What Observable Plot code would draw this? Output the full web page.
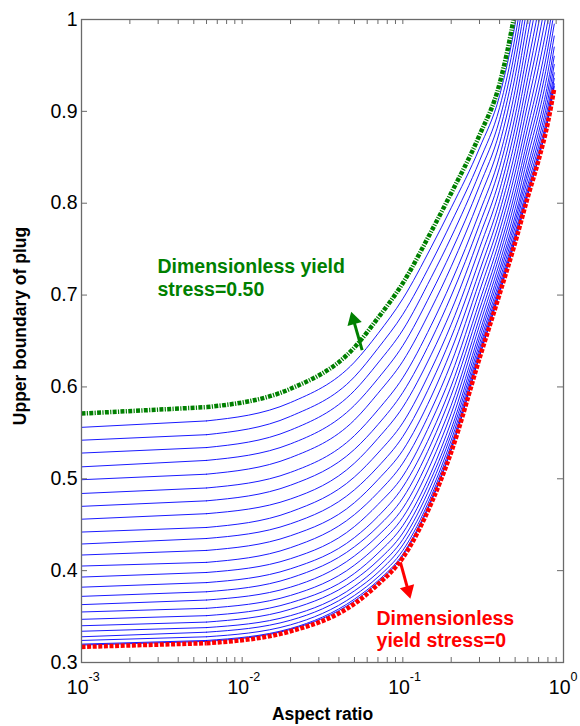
<!DOCTYPE html>
<html><head><meta charset="utf-8">
<script src="https://cdn.jsdelivr.net/npm/d3@7"></script>
<script src="https://cdn.jsdelivr.net/npm/@observablehq/plot@0.6"></script>
<style>body{margin:0;background:#fff} svg{display:block}</style>
</head><body><div id="chart"></div>
<script>
// ---- data ----
const aspectRatio = [0.001, 0.006, 0.02, 0.05, 0.07, 0.1, 0.15, 0.2, 0.3, 0.4, 0.5, 0.6, 0.7, 0.8, 0.876];
const yieldStress = [0, 0.02, 0.04, 0.06, 0.08, 0.10, 0.12, 0.14, 0.16, 0.18, 0.20, 0.22, 0.24,
  0.26, 0.28, 0.30, 0.32, 0.34, 0.36, 0.38, 0.40, 0.42, 0.44, 0.46, 0.48, 0.50];
// one row per yield stress, one value per aspect ratio
const plugBoundary = [
  [0.317, 0.321, 0.334, 0.364, 0.385, 0.414, 0.473, 0.529, 0.631, 0.701, 0.757, 0.807, 0.847, 0.888, 0.925],
  [0.319, 0.323, 0.336, 0.367, 0.387, 0.416, 0.475, 0.531, 0.633, 0.702, 0.759, 0.809, 0.849, 0.890, 0.927],
  [0.320, 0.324, 0.337, 0.369, 0.389, 0.418, 0.477, 0.533, 0.634, 0.704, 0.760, 0.811, 0.851, 0.893, 0.930],
  [0.324, 0.328, 0.341, 0.373, 0.393, 0.422, 0.481, 0.537, 0.638, 0.707, 0.764, 0.815, 0.856, 0.898, 0.936],
  [0.328, 0.333, 0.346, 0.378, 0.398, 0.428, 0.486, 0.542, 0.642, 0.711, 0.768, 0.820, 0.862, 0.905, 0.942],
  [0.334, 0.338, 0.351, 0.383, 0.404, 0.434, 0.493, 0.548, 0.647, 0.716, 0.774, 0.827, 0.869, 0.913, 0.951],
  [0.340, 0.344, 0.358, 0.390, 0.411, 0.441, 0.500, 0.554, 0.653, 0.722, 0.780, 0.834, 0.877, 0.922, 0.960],
  [0.347, 0.351, 0.365, 0.397, 0.419, 0.449, 0.507, 0.562, 0.659, 0.728, 0.786, 0.841, 0.886, 0.931, 0.970],
  [0.355, 0.359, 0.373, 0.406, 0.428, 0.458, 0.517, 0.571, 0.667, 0.735, 0.794, 0.851, 0.897, 0.943, 0.982],
  [0.363, 0.368, 0.382, 0.416, 0.438, 0.468, 0.527, 0.580, 0.675, 0.743, 0.803, 0.861, 0.908, 0.956, 0.995],
  [0.372, 0.377, 0.392, 0.426, 0.448, 0.479, 0.538, 0.591, 0.684, 0.751, 0.812, 0.871, 0.920, 0.969, 1.009],
  [0.382, 0.387, 0.402, 0.436, 0.459, 0.491, 0.549, 0.601, 0.693, 0.760, 0.822, 0.883, 0.933, 0.983, 1.024],
  [0.393, 0.398, 0.413, 0.448, 0.472, 0.503, 0.562, 0.613, 0.704, 0.770, 0.833, 0.895, 0.948, 0.999, 1.041],
  [0.405, 0.409, 0.425, 0.461, 0.485, 0.517, 0.575, 0.626, 0.715, 0.780, 0.844, 0.909, 0.963, 1.016, 1.058],
  [0.417, 0.422, 0.438, 0.474, 0.499, 0.531, 0.589, 0.640, 0.726, 0.791, 0.856, 0.923, 0.979, 1.034, 1.077],
  [0.429, 0.435, 0.451, 0.488, 0.513, 0.546, 0.604, 0.654, 0.738, 0.802, 0.869, 0.937, 0.996, 1.052, 1.096],
  [0.442, 0.447, 0.464, 0.502, 0.528, 0.561, 0.619, 0.668, 0.751, 0.814, 0.882, 0.952, 1.012, 1.071, 1.115],
  [0.456, 0.462, 0.478, 0.517, 0.544, 0.578, 0.635, 0.683, 0.764, 0.826, 0.895, 0.968, 1.031, 1.092, 1.137],
  [0.470, 0.476, 0.493, 0.532, 0.559, 0.594, 0.651, 0.699, 0.777, 0.839, 0.909, 0.984, 1.049, 1.112, 1.158],
  [0.484, 0.490, 0.507, 0.547, 0.575, 0.610, 0.667, 0.714, 0.790, 0.851, 0.923, 1.001, 1.067, 1.132, 1.179],
  [0.499, 0.505, 0.523, 0.564, 0.593, 0.628, 0.685, 0.731, 0.805, 0.865, 0.938, 1.018, 1.088, 1.154, 1.202],
  [0.513, 0.520, 0.538, 0.580, 0.609, 0.645, 0.702, 0.747, 0.819, 0.878, 0.953, 1.035, 1.107, 1.176, 1.224],
  [0.528, 0.534, 0.553, 0.596, 0.626, 0.662, 0.719, 0.763, 0.833, 0.891, 0.967, 1.052, 1.126, 1.197, 1.246],
  [0.542, 0.548, 0.568, 0.611, 0.642, 0.679, 0.735, 0.779, 0.846, 0.904, 0.981, 1.068, 1.144, 1.217, 1.268],
  [0.556, 0.563, 0.583, 0.627, 0.658, 0.696, 0.752, 0.795, 0.860, 0.917, 0.995, 1.085, 1.164, 1.238, 1.290],
  [0.571, 0.578, 0.598, 0.643, 0.675, 0.713, 0.769, 0.811, 0.874, 0.930, 1.010, 1.102, 1.183, 1.260, 1.312]
];
const yTicks = [0.3, 0.4, 0.5, 0.6, 0.7, 0.8, 0.9, 1];
const yTickLabels = ["0.3", "0.4", "0.5", "0.6", "0.7", "0.8", "0.9", "1"];
const xMajorTicks = [0.001, 0.01, 0.1, 1];
const xTickExponents = ["-3", "-2", "-1", "0"];
const xMinorTicks = [0.002, 0.003, 0.004, 0.005, 0.006, 0.007, 0.008, 0.009,
  0.02, 0.03, 0.04, 0.05, 0.06, 0.07, 0.08, 0.09,
  0.2, 0.3, 0.4, 0.5, 0.6, 0.7, 0.8, 0.9];
const greenLabel = ["Dimensionless yield\nstress=0.50"];
const redLabel = ["Dimensionless\nyield stress=0"];
const xTitle = ["Aspect ratio"];
const yTitle = ["Upper boundary of plug"];
// annotation arrows (data coordinates): shaft start, head centre, head rotation
const greenArrow = [{x1: 0.0558, y1: 0.640, x2: 0.0493, y2: 0.673, angle: -15.6}];
const redArrow = [{x1: 0.0966, y1: 0.409, x2: 0.1079, y2: 0.3785, angle: 164.7}];

// ---- layout ----
const W = 580, H = 726, mL = 81, mR = 17, mT = 19, mB = 64;
const plotW = W - mL - mR, plotH = H - mT - mB;
const FONT = "'Liberation Sans', Arial, Helvetica, sans-serif";
const GREEN = "#008000", RED = "#ff0000", BLUE = "#0000ff", AXIS = "#6a6a6a";

const rows = [];
plugBoundary.forEach((vals, i) => vals.forEach((v, j) => rows.push({stress: yieldStress[i], ratio: aspectRatio[j], value: v, j})));
const first = d => d.j <= 1, rest = d => d.j >= 1;
const blue = rows.filter(d => d.stress > 0 && d.stress < 0.5);
const red = rows.filter(d => d.stress === 0);
const green = rows.filter(d => d.stress === 0.5);

const lineOpts = {x: "ratio", y: "value", z: "stress", clip: true};
const redStyle = {stroke: RED, strokeWidth: 4.5, strokeDasharray: "4 1.6", strokeLinecap: "butt"};
const greenStyle = {stroke: GREEN, strokeWidth: 4.5, strokeDasharray: "4 1.3 1.2 1.3", strokeLinecap: "butt"};

const chart = Plot.plot({
  width: W, height: H,
  marginLeft: mL, marginRight: mR, marginTop: mT, marginBottom: mB,
  style: {fontFamily: FONT, background: "white"},
  x: {type: "log", domain: [0.001, 1], axis: null},
  y: {domain: [0.3, 1], axis: null},
  marks: [
    Plot.line(blue.filter(first), {...lineOpts, stroke: BLUE, strokeWidth: 0.9}),
    Plot.line(blue.filter(rest), {...lineOpts, stroke: BLUE, strokeWidth: 0.9, curve: "monotone-x"}),
    Plot.line(red.filter(first), {...lineOpts, ...redStyle}),
    Plot.line(red.filter(rest), {...lineOpts, ...redStyle, curve: "monotone-x"}),
    Plot.line(green.filter(first), {...lineOpts, ...greenStyle}),
    Plot.line(green.filter(rest), {...lineOpts, ...greenStyle, curve: "monotone-x"}),
    // frame + inward ticks
    Plot.frame({stroke: AXIS, strokeWidth: 1.3}),
    Plot.ruleX(xMajorTicks.concat(xMinorTicks), {x: d => d, insetTop: plotH - 5, stroke: AXIS}),
    Plot.ruleX(xMajorTicks.concat(xMinorTicks), {x: d => d, insetBottom: plotH - 5, stroke: AXIS}),
    Plot.ruleY(yTicks, {y: d => d, insetRight: plotW - 6, stroke: AXIS}),
    Plot.ruleY(yTicks, {y: d => d, insetLeft: plotW - 6, stroke: AXIS}),
    // tick labels
    Plot.text(yTicks, {y: d => d, text: (d, i) => yTickLabels[i], frameAnchor: "left", textAnchor: "end", dx: -4, fontSize: 19.5, fill: "black"}),
    Plot.text(xMajorTicks, {x: d => d, text: () => "10", frameAnchor: "bottom", textAnchor: "end", dx: 7, dy: 31, fontSize: 19.5, fill: "black"}),
    Plot.text(xMajorTicks, {x: d => d, text: (d, i) => xTickExponents[i], frameAnchor: "bottom", textAnchor: "start", dx: 7, dy: 18.5, fontSize: 12.5, fill: "black"}),
    // axis titles
    Plot.text(xTitle, {frameAnchor: "bottom", textAnchor: "middle", dy: 57, fontSize: 17.5, fontWeight: "bold", fill: "black"}),
    Plot.text(yTitle, {frameAnchor: "left", textAnchor: "middle", lineAnchor: "middle", dx: -61, dy: -15, rotate: -90, fontSize: 17.5, fontWeight: "bold", fill: "black"}),
    // annotations
    Plot.text(greenLabel, {x: () => 0.00297, y: () => 0.741, textAnchor: "start", lineAnchor: "top", lineHeight: 1.16, fontSize: 19.5, fontWeight: "bold", fill: GREEN}),
    Plot.text(redLabel, {x: () => 0.0686, y: () => 0.3585, textAnchor: "start", lineAnchor: "top", lineHeight: 1.15, fontSize: 19.5, fontWeight: "bold", fill: RED}),
    Plot.link(greenArrow, {x1: "x1", y1: "y1", x2: "x2", y2: "y2", stroke: GREEN, strokeWidth: 3}),
    Plot.dot(greenArrow, {x: "x2", y: "y2", symbol: "triangle", r: 5.5, rotate: "angle", fill: GREEN, stroke: null}),
    Plot.link(redArrow, {x1: "x1", y1: "y1", x2: "x2", y2: "y2", stroke: RED, strokeWidth: 3}),
    Plot.dot(redArrow, {x: "x2", y: "y2", symbol: "triangle", r: 5.5, rotate: "angle", fill: RED, stroke: null})
  ]
});
document.getElementById("chart").appendChild(chart);
</script>
</body></html>
